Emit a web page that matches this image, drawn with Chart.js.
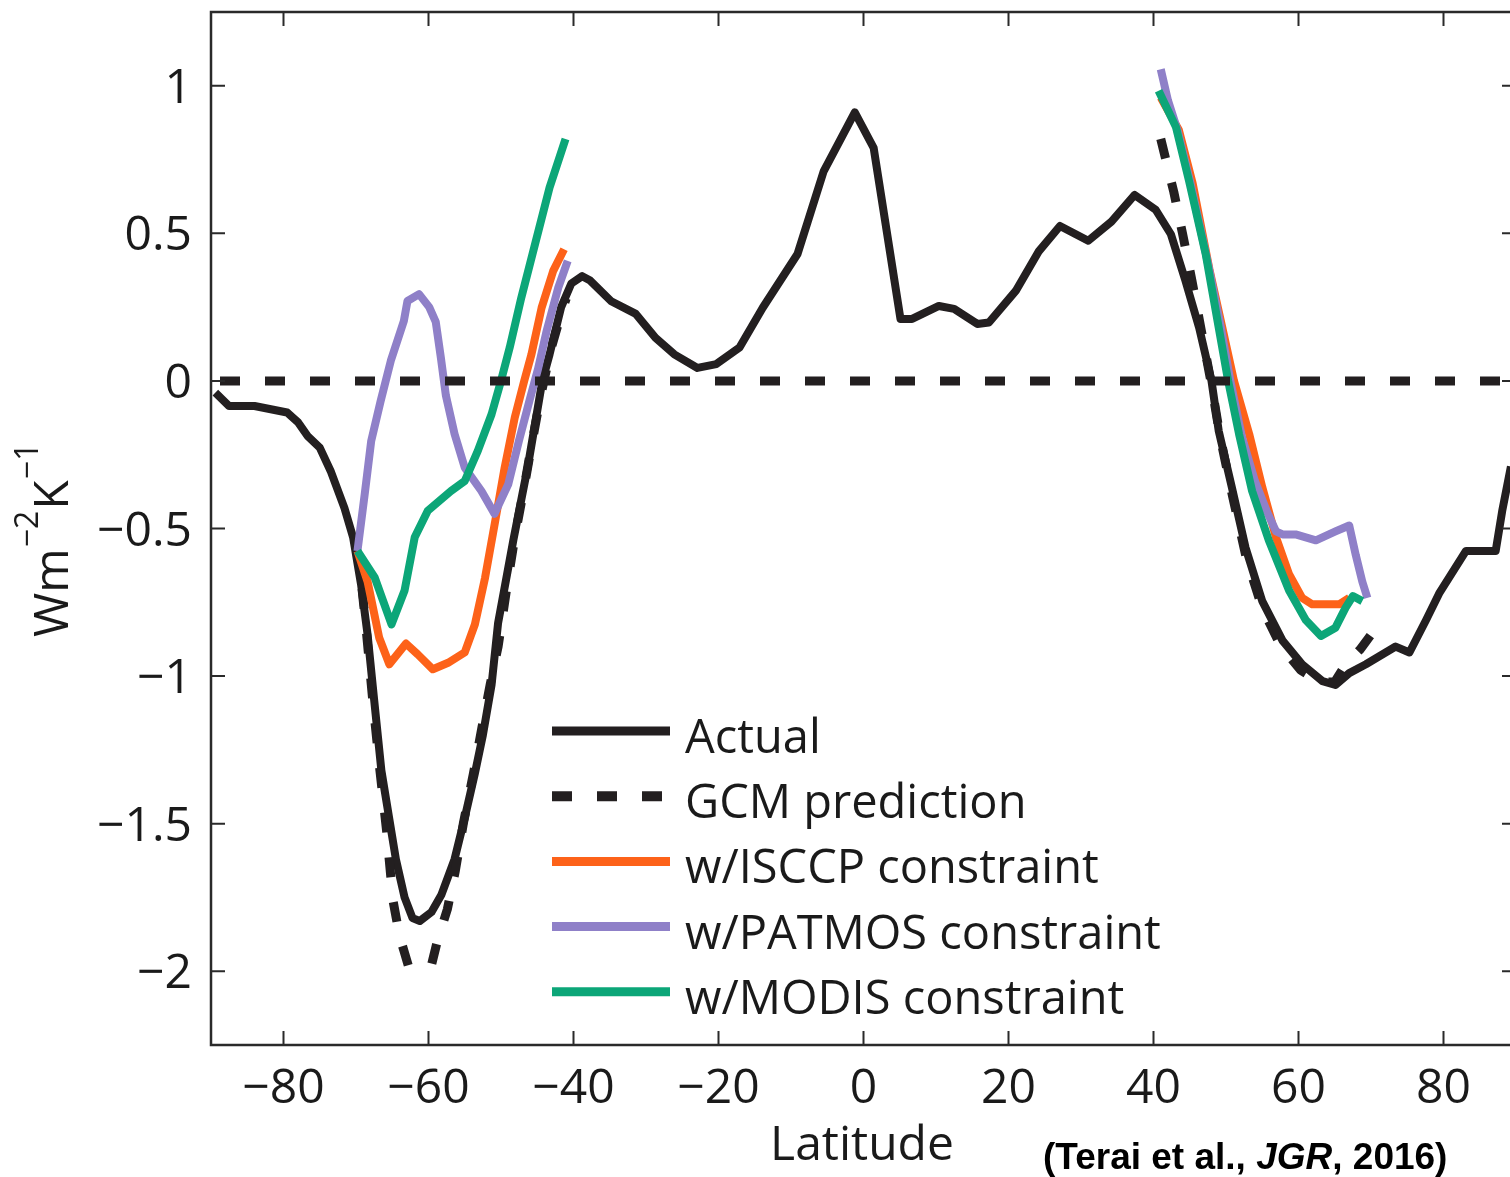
<!DOCTYPE html>
<html><head><meta charset="utf-8">
<script src="https://cdn.jsdelivr.net/npm/chart.js@4/dist/chart.umd.min.js"></script>
<style>html,body{margin:0;padding:0;background:#fff;overflow:hidden;}#wrap{width:1530px;height:1177px;}</style>
</head><body><div id="wrap"><canvas id="c" width="1530" height="1177"></canvas></div>
<script>
// ---- data (latitude, W m^-2 K^-1) ----
const actualLat = [-89.4,-87.5,-84,-79.5,-78,-76.7,-75,-73.5,-71.6,-70.4,-69.3,-68.4,-67.5,-66.5,-65.5,-64.5,-63.3,-62.2,-61.2,-59.6,-58.2,-56.4,-55,-53.6,-52.5,-51.3,-50.4,-48.3,-46.3,-44.3,-43.3,-41.7,-40.3,-38.8,-37.7,-34.8,-31.4,-28.7,-26.1,-22.9,-20.3,-17.1,-13.9,-9.1,-5.5,-1.2,1.4,5.1,6.7,10.4,12.5,15.7,17.3,21,24.2,27.1,31,34.2,37.4,40.3,42.4,44.4,46.3,48,49,50.8,52.7,55,57.8,60.5,63.3,65.1,67,69.3,73.4,75.3,77.6,79.4,83.1,87.2,88.1,89.3];
const actualVal = [-0.04,-0.085,-0.085,-0.107,-0.14,-0.186,-0.226,-0.305,-0.43,-0.53,-0.69,-0.86,-1.08,-1.32,-1.47,-1.62,-1.75,-1.82,-1.83,-1.80,-1.74,-1.62,-1.48,-1.33,-1.20,-1.03,-0.82,-0.54,-0.29,0,0.09,0.25,0.33,0.355,0.34,0.27,0.227,0.146,0.09,0.044,0.057,0.113,0.248,0.43,0.71,0.91,0.79,0.21,0.21,0.254,0.244,0.193,0.198,0.305,0.44,0.525,0.475,0.54,0.63,0.58,0.497,0.34,0.18,0,-0.17,-0.36,-0.565,-0.746,-0.88,-0.96,-1.017,-1.03,-0.99,-0.96,-0.90,-0.92,-0.81,-0.72,-0.576,-0.576,-0.44,-0.29];

const gcmSouthLat = [-69.6,-68.6,-67.7,-66.7,-65.8,-64.9,-64.0,-63.4,-62.8,-59.6,-58.8,-57.4,-56.3,-55.2,-53.8,-52.6,-51.5,-50.4,-49.2,-48.1,-46.8,-45.8,-44.6,-43.2,-41.8,-41.0];
const gcmSouthVal = [-0.60,-0.84,-1.08,-1.32,-1.52,-1.76,-1.88,-1.93,-1.98,-1.98,-1.90,-1.79,-1.66,-1.50,-1.33,-1.17,-1.03,-0.90,-0.70,-0.53,-0.36,-0.22,-0.06,0.10,0.22,0.28];
const gcmNorthLat = [41.0,42.8,44.0,45.3,46.6,47.9,49.2,50.9,52.8,55.0,57.6,60.3,63.0,65.0,66.5,68.5,70.0];
const gcmNorthVal = [0.82,0.64,0.50,0.34,0.17,0.0,-0.19,-0.39,-0.60,-0.77,-0.90,-0.98,-1.02,-1.02,-0.96,-0.91,-0.86];

const isccpLat = [-69.8,-68.4,-66.8,-65.4,-63.1,-61.5,-59.4,-57.3,-55,-53.6,-52.2,-50.8,-49.5,-48.1,-46.8,-45.8,-44.4,-42.8,-41.3, 0, 41,43.5,45.4,47.7,49.5,51.1,53.2,55,56.9,58.7,60.5,61.9,65.6,67];
const isccpVal = [-0.576,-0.68,-0.87,-0.96,-0.89,-0.926,-0.977,-0.955,-0.92,-0.825,-0.667,-0.475,-0.294,-0.124,0.0,0.09,0.248,0.373,0.446, null, 0.96,0.85,0.67,0.38,0.18,0.0,-0.18,-0.36,-0.53,-0.655,-0.735,-0.757,-0.757,-0.735];

const patmosLat = [-69.8,-68.8,-67.9,-66.6,-65.2,-63.4,-62.9,-61.3,-59.9,-59.0,-58.3,-57.6,-56.4,-55,-52.7,-50.9,-49,-47.5,-46,-44.9,-43.7,-42.1,-40.8, 0, 41,42.0,43.3,45.1,47.5,49.3,50.6,52.2,54,55.6,56.9,57.8,59.6,62.4,65.1,67,67.9,68.8,69.5];
const patmosVal = [-0.576,-0.384,-0.203,-0.068,0.068,0.203,0.271,0.294,0.25,0.2,0.08,-0.05,-0.18,-0.294,-0.373,-0.45,-0.35,-0.2,-0.06,0.04,0.17,0.316,0.407, null, 1.056,0.95,0.85,0.67,0.40,0.18,0.0,-0.19,-0.34,-0.44,-0.51,-0.52,-0.52,-0.54,-0.51,-0.49,-0.59,-0.68,-0.735];

const modisLat = [-69.8,-67.4,-65.1,-63.3,-61.9,-60.1,-56.9,-55,-53.2,-51.3,-50,-48.8,-47.2,-45.3,-43.3,-41.1, 0, 40.7,43.1,44.9,47.2,49,50.3,51.8,53.6,55.9,58.7,61,63.1,65.1,66.5,67.5,68.8];
const modisVal = [-0.576,-0.667,-0.825,-0.71,-0.53,-0.44,-0.373,-0.339,-0.237,-0.113,0.0,0.113,0.282,0.464,0.655,0.82, null, 0.983,0.86,0.678,0.43,0.18,0.0,-0.18,-0.373,-0.54,-0.71,-0.81,-0.864,-0.836,-0.768,-0.729,-0.746];

const zeroLat = [-90, 90];
const zeroVal = [0, 0];

const xTicks = [-80,-60,-40,-20,0,20,40,60,80];
const yTicks = [-2,-1.5,-1,-0.5,0,0.5,1];
const legendLabels = ['Actual','GCM prediction','w/ISCCP constraint','w/PATMOS constraint','w/MODIS constraint'];
const xTitle = 'Latitude';
const citation = ['(Terai et al., ', 'JGR', ', 2016)'];

// ---- styling ----
const C_BLACK = '#231f20', C_ORANGE = '#fd6219', C_PURPLE = '#8f80c8', C_GREEN = '#0ca678';
const FONT = '"Open Sans", "Noto Sans", sans-serif';
const DASH = [20, 25];
const GAP_AT = 8; // index in the southern GCM path where a dash gap should begin

function pts(lat, val){ return lat.map((x,i)=>({x:x, y:val[i]})); }
const fmt = v => (v < 0 ? '\u2212' : '') + String(Math.abs(v));

// dash phase so that the gap of the pattern begins at the bottom corner of the southern GCM curve
function southDashOffset(c){
  const ch = c.chart, xs = ch.scales.x, ys = ch.scales.y;
  if (!xs || !ys) return 0;
  let L = 0;
  for (let i = 1; i <= GAP_AT; i++){
    const dx = xs.getPixelForValue(gcmSouthLat[i]) - xs.getPixelForValue(gcmSouthLat[i-1]);
    const dy = ys.getPixelForValue(gcmSouthVal[i]) - ys.getPixelForValue(gcmSouthVal[i-1]);
    L += Math.hypot(dx, dy);
  }
  const P = DASH[0] + DASH[1];
  return (((DASH[0] - L) % P) + P) % P;
}

const lineBase = {pointRadius:0, borderWidth:8, tension:0, spanGaps:false, borderJoinStyle:'round', borderCapStyle:'butt', fill:false};

const datasets = [
  Object.assign({}, lineBase, {label:'zero', data:pts(zeroLat, zeroVal), borderColor:C_BLACK, borderWidth:9, borderDash:DASH, borderDashOffset:36, order:0}),
  Object.assign({}, lineBase, {label:legendLabels[4], data:pts(modisLat, modisVal), borderColor:C_GREEN, order:1}),
  Object.assign({}, lineBase, {label:legendLabels[3], data:pts(patmosLat, patmosVal), borderColor:C_PURPLE, order:2}),
  Object.assign({}, lineBase, {label:legendLabels[2], data:pts(isccpLat, isccpVal), borderColor:C_ORANGE, order:3}),
  Object.assign({}, lineBase, {label:legendLabels[1], data:pts(gcmSouthLat, gcmSouthVal), borderColor:C_BLACK, borderWidth:9, borderDash:DASH, borderDashOffset:southDashOffset, order:4}),
  Object.assign({}, lineBase, {label:legendLabels[1] + ' (N)', data:pts(gcmNorthLat, gcmNorthVal), borderColor:C_BLACK, borderWidth:9, borderDash:DASH, borderDashOffset:0, order:4}),
  Object.assign({}, lineBase, {label:legendLabels[0], data:pts(actualLat, actualVal), borderColor:C_BLACK, order:5})
];

const legendItems = [
  {label:legendLabels[0], color:C_BLACK, dash:[]},
  {label:legendLabels[1], color:C_BLACK, dash:DASH},
  {label:legendLabels[2], color:C_ORANGE, dash:[]},
  {label:legendLabels[3], color:C_PURPLE, dash:[]},
  {label:legendLabels[4], color:C_GREEN, dash:[]}
];

const decor = {
  id:'decor',
  afterDraw(chart){
    const ctx = chart.ctx, a = chart.chartArea, xs = chart.scales.x, ys = chart.scales.y;
    ctx.save();
    // frame
    ctx.strokeStyle = '#2a2a2a'; ctx.lineWidth = 2.5; ctx.setLineDash([]);
    ctx.strokeRect(a.left, a.top, a.right - a.left, a.bottom - a.top);
    // inward ticks
    ctx.lineWidth = 2; const TL = 14;
    ctx.beginPath();
    xTicks.forEach(v => { const p = xs.getPixelForValue(v);
      ctx.moveTo(p, a.bottom); ctx.lineTo(p, a.bottom - TL);
      ctx.moveTo(p, a.top); ctx.lineTo(p, a.top + TL); });
    yTicks.forEach(v => { const p = ys.getPixelForValue(v);
      ctx.moveTo(a.left, p); ctx.lineTo(a.left + TL, p);
      ctx.moveTo(a.right, p); ctx.lineTo(a.right - TL, p); });
    ctx.stroke();
    // tick labels
    ctx.fillStyle = '#1a1a1a';
    ctx.font = '48px ' + FONT;
    ctx.textAlign = 'right'; ctx.textBaseline = 'alphabetic';
    yTicks.forEach(v => { const p = ys.getPixelForValue(v); ctx.fillText(fmt(v), a.left - 19, p + 17); });
    ctx.textAlign = 'center';
    xTicks.forEach(v => { const p = xs.getPixelForValue(v); ctx.fillText(fmt(v), p, 1103); });
    // x title
    ctx.fillText(xTitle, 862, 1160);
    // y title with superscripts
    ctx.save();
    ctx.translate(68, 637); ctx.rotate(-Math.PI/2);
    ctx.textAlign = 'left';
    let x = 0;
    ctx.font = '48px ' + FONT; ctx.fillText('Wm', x, 0); x += ctx.measureText('Wm').width + 1;
    ctx.font = '32px ' + FONT; ctx.fillText('\u22122', x, -30); x += ctx.measureText('\u22122').width + 1;
    ctx.font = '48px ' + FONT; ctx.fillText('K', x, 0); x += ctx.measureText('K').width + 1;
    ctx.font = '32px ' + FONT; ctx.fillText('\u22121', x, -30);
    ctx.restore();
    // legend
    ctx.font = '47px ' + FONT; ctx.textAlign = 'left';
    legendItems.forEach((it, i) => {
      const base = 753 + i * 65.2;
      const ly = base - 22;
      ctx.strokeStyle = it.color; ctx.lineWidth = it.dash.length ? 10 : 9;
      ctx.setLineDash(it.dash); ctx.lineDashOffset = 0;
      ctx.beginPath(); ctx.moveTo(552, ly); ctx.lineTo(670, ly); ctx.stroke();
      ctx.setLineDash([]);
      ctx.fillStyle = '#1a1a1a';
      ctx.fillText(it.label, 685, base);
    });
    // citation
    const cf = 'bold 37px "Liberation Sans", Arial, sans-serif';
    const cfi = 'italic bold 37px "Liberation Sans", Arial, sans-serif';
    let cx = 1043; const cy = 1169;
    ctx.fillStyle = '#000';
    ctx.font = cf; ctx.fillText(citation[0], cx, cy); cx += ctx.measureText(citation[0]).width;
    ctx.font = cfi; ctx.fillText(citation[1], cx, cy); cx += ctx.measureText(citation[1]).width;
    ctx.font = cf; ctx.fillText(citation[2], cx, cy);
    ctx.restore();
  }
};

new Chart(document.getElementById('c'), {
  type:'line',
  data:{datasets:datasets},
  options:{
    responsive:false, animation:false, devicePixelRatio:1,
    layout:{padding:{left:0, right:14, top:12, bottom:0}},
    plugins:{legend:{display:false}, tooltip:{enabled:false}},
    scales:{
      x:{type:'linear', min:-90, max:90, grid:{display:false}, border:{display:false},
         ticks:{display:false}, afterBuildTicks:s=>{s.ticks = xTicks.map(v=>({value:v}));},
         afterFit:s=>{s.height = 132;}},
      y:{type:'linear', min:-2.25, max:1.25, grid:{display:false}, border:{display:false},
         ticks:{display:false}, afterBuildTicks:s=>{s.ticks = yTicks.map(v=>({value:v}));},
         afterFit:s=>{s.width = 211;}}
    }
  },
  plugins:[decor]
});
</script></body></html>
